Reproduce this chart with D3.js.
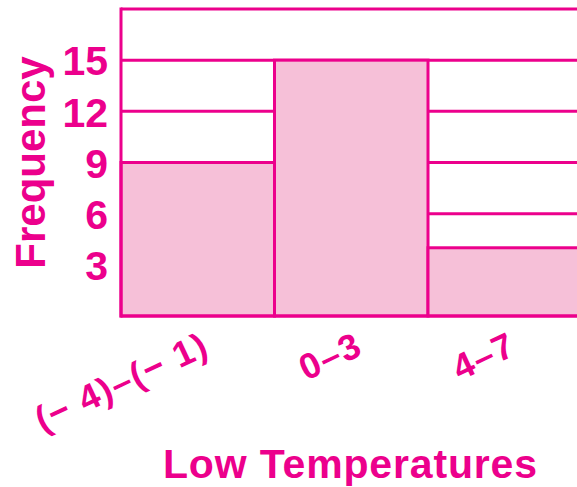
<!DOCTYPE html>
<html><head><meta charset="utf-8">
<script src="https://cdn.jsdelivr.net/npm/d3@7"></script>
<style>html,body{margin:0;padding:0;background:#fff;overflow:hidden}</style>
</head><body>
<svg id="c" width="577" height="487"></svg>
<script>
const categories = ["(\u2212 4)\u2013(\u2212 1)", "0\u20133", "4\u20137"];
const frequencies = [9, 15, 4];
const yTicks = [3, 6, 9, 12, 15];
const yMax = 18;
const xTitle = "Low Temperatures";
const yTitle = "Frequency";

(function () {
const MAG = "#EC008C", PINK = "#F6C0D8";
const svg = d3.select("#c");
const mLeft = 121, mTop = 9, mBottom = 316, bandW = 153.5;
const x = d3.scaleBand().domain(categories).range([mLeft, mLeft + bandW * categories.length]).padding(0);
const y = d3.scaleLinear().domain([0, yMax]).range([mBottom, mTop]);

// gridlines (behind bars)
svg.append("g").selectAll("line").data(yTicks.concat([yMax])).join("line")
  .attr("x1", mLeft).attr("x2", 590)
  .attr("y1", d => y(d)).attr("y2", d => y(d))
  .attr("stroke", MAG).attr("stroke-width", 3);

// bars
svg.append("g").selectAll("rect").data(frequencies).join("rect")
  .attr("x", (d, i) => x(categories[i]))
  .attr("y", d => y(d))
  .attr("width", x.bandwidth())
  .attr("height", d => y(0) - y(d))
  .attr("fill", PINK).attr("stroke", MAG).attr("stroke-width", 3);

// axes lines
svg.append("line").attr("x1", mLeft).attr("x2", mLeft).attr("y1", y(yMax) - 1.5).attr("y2", y(0) + 1.5)
  .attr("stroke", MAG).attr("stroke-width", 3);
svg.append("line").attr("x1", mLeft).attr("x2", 590).attr("y1", y(0)).attr("y2", y(0))
  .attr("stroke", MAG).attr("stroke-width", 3);

// y tick labels
const ya = svg.append("g").attr("transform", `translate(${mLeft},0)`)
  .call(d3.axisLeft(y).tickValues(yTicks).tickSize(0).tickPadding(13));
ya.select(".domain").remove();
ya.selectAll("text").attr("fill", MAG).attr("font-family", "Liberation Sans, Arial, sans-serif")
  .attr("font-weight", "bold").attr("font-size", 41).attr("dy", "0.36em");

// x category labels, rotated
svg.append("g").selectAll("text").data(categories).join("text")
  .attr("transform", d => `translate(${x(d) + x.bandwidth() / 2 + 8},342) rotate(-25)`)
  .attr("text-anchor", "end").attr("dy", "0.36em")
  .attr("font-family", "Liberation Sans, Arial, sans-serif").attr("font-size", 36)
  .attr("font-weight", "bold").attr("letter-spacing", 1.5)
  .attr("fill", MAG).text(d => d);

// titles
svg.append("text").attr("transform", "translate(45,162.5) rotate(-90)")
  .attr("text-anchor", "middle").attr("font-family", "Liberation Sans, Arial, sans-serif")
  .attr("font-weight", "bold").attr("font-size", 42).attr("fill", MAG).text(yTitle);
svg.append("text").attr("x", 350).attr("y", 478)
  .attr("text-anchor", "middle").attr("font-family", "Liberation Sans, Arial, sans-serif")
  .attr("font-weight", "bold").attr("font-size", 41).attr("fill", MAG)
  .attr("textLength", 374).attr("lengthAdjust", "spacing").text(xTitle);
})();
</script>
</body></html>
